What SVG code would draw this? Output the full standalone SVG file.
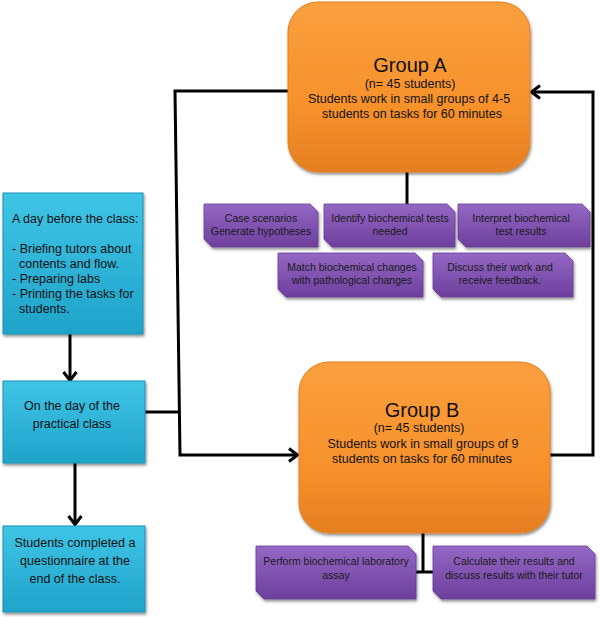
<svg xmlns="http://www.w3.org/2000/svg" width="600" height="617" viewBox="0 0 600 617">
<defs>
<linearGradient id="gOr" x1="0" y1="0" x2="0" y2="1"><stop offset="0" stop-color="#fa9f3e"/><stop offset="0.6" stop-color="#f7922c"/><stop offset="1" stop-color="#e57f22"/></linearGradient>
<linearGradient id="gBl" x1="0" y1="0" x2="0" y2="1"><stop offset="0" stop-color="#3fc5e6"/><stop offset="1" stop-color="#1fa3c9"/></linearGradient>
<linearGradient id="gPu" x1="0" y1="0" x2="0" y2="1"><stop offset="0" stop-color="#9468c4"/><stop offset="1" stop-color="#6d3f9d"/></linearGradient>
<filter id="sh" x="-10%" y="-10%" width="125%" height="130%"><feDropShadow dx="1" dy="2" stdDeviation="1.5" flood-color="#000" flood-opacity="0.45"/></filter>
<marker id="arr" viewBox="0 0 12 16" refX="11" refY="8" markerWidth="12" markerHeight="16" markerUnits="userSpaceOnUse" orient="auto"><path d="M2,1.5 L10.5,8 L2,14.5" fill="none" stroke="#000" stroke-width="3"/></marker>
</defs>
<style>
.or{fill:url(#gOr);stroke:#e0801e;stroke-width:1;filter:url(#sh)}
.bl{fill:url(#gBl);stroke:#1c93b5;stroke-width:1;filter:url(#sh)}
.pu{fill:url(#gPu);stroke:#6a3d98;stroke-width:0.8;filter:url(#sh)}
text{font-family:"Liberation Sans",Arial,sans-serif;fill:#111}
.t{font-size:20px;text-anchor:middle}
.m{font-size:12.5px;text-anchor:middle}
.s{font-size:10.5px;text-anchor:middle;fill:#1a1a1a}
.b{font-size:12.5px}
.ln{fill:none;stroke:#000;stroke-width:3}
</style>
<g id="connectors">
<line class="ln" x1="407" y1="172" x2="407" y2="205"/>
<line class="ln" x1="423" y1="533" x2="423" y2="573"/>
<line class="ln" x1="415" y1="572" x2="434" y2="572"/>
<line class="ln" x1="70" y1="334" x2="70" y2="381" marker-end="url(#arr)"/>
<line class="ln" x1="75" y1="463" x2="75" y2="525" marker-end="url(#arr)"/>
<path class="ln" d="M145,412 H180"/>
<path class="ln" d="M289,91 H175 L180,455 H298" marker-end="url(#arr)"/>
<path class="ln" d="M550,455 H593 V92 H531" marker-end="url(#arr)"/>
</g>
<g id="groupA">
<rect class="or" x="288" y="2" width="242" height="170" rx="30"/>
<text class="t" x="410" y="72">Group A</text>
<text class="m" x="410" y="88">(n= 45 students)</text>
<text class="m" x="409" y="103">Students work in small groups of 4-5</text>
<text class="m" x="412" y="118">students on tasks for 60 minutes</text>
</g>
<g id="groupB">
<rect class="or" x="299" y="362" width="251" height="171" rx="30"/>
<text class="t" x="422" y="417">Group B</text>
<text class="m" x="419" y="432">(n= 45 students)</text>
<text class="m" x="423" y="448">Students work in small groups of 9</text>
<text class="m" x="422" y="463">students on tasks for 60 minutes</text>
</g>
<g id="dayBefore">
<rect class="bl" x="3" y="193" width="140" height="141"/>
<text class="b" x="12" y="223">A day before the class:</text>
<text class="b" x="12" y="253">- Briefing tutors about</text>
<text class="b" x="19" y="268">contents and flow.</text>
<text class="b" x="12" y="283">- Preparing labs</text>
<text class="b" x="12" y="298">- Printing the tasks for</text>
<text class="b" x="19" y="313">students.</text>
</g>
<g id="dayOf">
<rect class="bl" x="3" y="381" width="142" height="82"/>
<text class="m" x="72" y="410">On the day of the</text>
<text class="m" x="72" y="428">practical class</text>
</g>
<g id="questionnaire">
<rect class="bl" x="3" y="526" width="142" height="86"/>
<text class="m" x="75" y="547">Students completed a</text>
<text class="m" x="75" y="565">questionnaire at the</text>
<text class="m" x="75" y="583">end of the class.</text>
</g>
<g id="p1">
<path class="pu" d="M204,204 H310 L318,212 V247 H212 L204,239 Z"/>
<text class="s" x="261" y="222">Case scenarios</text>
<text class="s" x="261" y="235">Generate hypotheses</text>
</g>
<g id="p2">
<path class="pu" d="M324,204 H447 L455,212 V247 H332 L324,239 Z"/>
<text class="s" x="390" y="222">Identify biochemical tests</text>
<text class="s" x="390" y="235">needed</text>
</g>
<g id="p3">
<path class="pu" d="M458,204 H582 L590,212 V247 H466 L458,239 Z"/>
<text class="s" x="521" y="222">Interpret biochemical</text>
<text class="s" x="521" y="235">test results</text>
</g>
<g id="p4">
<path class="pu" d="M278,253 H415 L423,261 V297 H286 L278,289 Z"/>
<text class="s" x="352" y="271">Match biochemical changes</text>
<text class="s" x="352" y="284">with pathological changes</text>
</g>
<g id="p5">
<path class="pu" d="M433,253 H565 L573,261 V297 H441 L433,289 Z"/>
<text class="s" x="500" y="271">Discuss their work and</text>
<text class="s" x="500" y="284">receive feedback.</text>
</g>
<g id="p6">
<path class="pu" d="M256,546 H408 L416,554 V599 H264 L256,591 Z"/>
<text class="s" x="336" y="565">Perform biochemical laboratory</text>
<text class="s" x="336" y="579">assay</text>
</g>
<g id="p7">
<path class="pu" d="M433,546 H587 L595,554 V599 H441 L433,591 Z"/>
<text class="s" x="514" y="565">Calculate their results and</text>
<text class="s" x="514" y="579">discuss results with their tutor</text>
</g>
</svg>
